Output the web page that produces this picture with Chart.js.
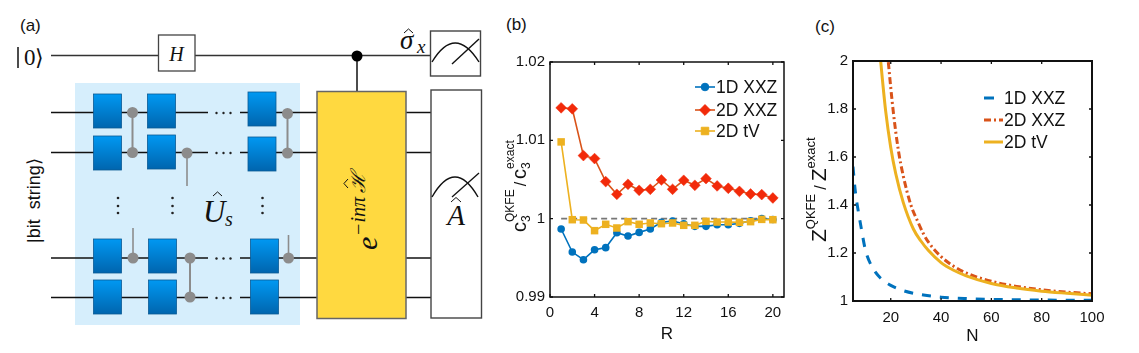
<!DOCTYPE html>
<html><head><meta charset="utf-8">
<script src="https://cdn.jsdelivr.net/npm/chart.js@4"></script>
<style>
html,body{margin:0;padding:0;background:#fff;width:1139px;height:353px;overflow:hidden}
#stage{position:relative;width:1139px;height:353px}
svg{position:absolute;left:0;top:0}
canvas{position:absolute}
</style></head><body>
<div id="stage">
<svg width="1139" height="353" viewBox="0 0 1139 353" id="diagram" xmlns="http://www.w3.org/2000/svg"></svg>
<canvas id="chartB" style="left:490px;top:40px"></canvas>
<canvas id="chartC" style="left:800px;top:40px"></canvas>
</div>
<script>
// ---------- panel (b) data ----------
const rounds = [1,2,3,4,5,6,7,8,9,10,11,12,13,14,15,16,17,18,19,20];
const b1dXXZ = [0.99868,0.99574,0.99476,0.99604,0.9963,0.9982,0.99778,0.99825,0.99868,0.99953,0.9997,0.99936,0.99902,0.99902,0.99923,0.99923,0.9994,0.99974,1.0,0.9999];
const b2dXXZ = [1.01415,1.01402,1.00805,1.00767,1.00473,1.00311,1.00439,1.00362,1.00375,1.00494,1.00375,1.0049,1.00426,1.00511,1.00418,1.00388,1.00349,1.00315,1.00307,1.00264];
const b2dtV  = [1.0098,0.99987,0.99983,0.99847,0.99928,0.99881,0.99962,0.99928,0.99945,0.99936,0.99945,0.99915,0.99915,0.99966,0.99957,0.99957,0.99953,0.99962,0.99991,0.99987];
const refR = [1,20];
const refV = [1,1];
const bXTicks = [0,4,8,12,16,20];
const bYTicks = [0.99,1,1.01,1.02];
// ---------- panel (c) data ----------
const c1dN = [5,5.5,6,7,8,10,13,16,20,25,33,40,50,60,70,80,100];
const c1dV = [1.56,1.50,1.45,1.38,1.32,1.21,1.135,1.095,1.065,1.043,1.025,1.016,1.010,1.007,1.005,1.004,1.003];
const c2dXXZN = [18,19,21,23,25,28,31,33,35,40,45,50,60,70,80,90,100];
const c2dXXZV = [2.12,2.0,1.79,1.63,1.52,1.40,1.325,1.28,1.245,1.185,1.145,1.117,1.082,1.061,1.047,1.037,1.03];
const c2dtVN = [15,16,18,20,22,25,29,32,35,40,45,50,60,70,80,90,100];
const c2dtVV = [2.12,2.0,1.79,1.64,1.53,1.41,1.30,1.25,1.21,1.16,1.128,1.105,1.073,1.054,1.041,1.032,1.024];
const cXTicks = [20,40,60,80,100];
const cYTicks = [1,1.2,1.4,1.6,1.8,2];
const labels1D = '1D XXZ', labels2D = '2D XXZ', labelsTV = '2D tV';

const BLUE='#0072BD', ORANGE='#D95319', GOLD='#EDB120', RED='#F22A0A', INK='#1c1c1c';
const SANS='"Liberation Sans", Arial, sans-serif';
const zip=(xs,ys)=>xs.map((x,i)=>({x,y:ys[i]}));

// draws the box frame, inward ticks, legend and composite y title
const decor = {
  id:'decor',
  afterDatasetsDraw(chart,args,o){
    const {ctx,chartArea:a,scales}=chart;
    ctx.save();
    ctx.strokeStyle='#111'; ctx.lineWidth=o.frame;
    ctx.strokeRect(a.left,a.top,a.right-a.left,a.bottom-a.top);
    ctx.lineWidth=1.3;
    ctx.beginPath();
    scales.x.ticks.forEach(t=>{const p=scales.x.getPixelForValue(t.value);
      ctx.moveTo(p,a.bottom);ctx.lineTo(p,a.bottom-3);ctx.moveTo(p,a.top);ctx.lineTo(p,a.top+3);});
    scales.y.ticks.forEach(t=>{const p=scales.y.getPixelForValue(t.value);
      ctx.moveTo(a.left,p);ctx.lineTo(a.left+3,p);ctx.moveTo(a.right,p);ctx.lineTo(a.right-3,p);});
    ctx.stroke();
    // legend
    ctx.font='17.5px '+SANS; ctx.textBaseline='middle'; ctx.textAlign='left';
    o.legend.forEach(it=>{
      const ds=chart.data.datasets[it.ds];
      ctx.save();
      ctx.strokeStyle=ds.borderColor; ctx.lineWidth=ds.borderWidth;
      ctx.setLineDash(it.dash||ds.borderDash||[]);
      ctx.beginPath();ctx.moveTo(o.lx0,it.y);ctx.lineTo(o.lx1,it.y);ctx.stroke();
      ctx.setLineDash([]);
      if(ds.pointStyle && ds.pointRadius>0){
        ctx.fillStyle=ds.pointBackgroundColor; ctx.strokeStyle=ds.pointBorderColor; ctx.lineWidth=1;
        Chart.helpers.drawPoint(ctx,{pointStyle:ds.pointStyle,radius:ds.pointRadius,borderWidth:1,rotation:0},(o.lx0+o.lx1)/2,it.y);
      }
      ctx.restore();
      ctx.fillStyle='#111';
      ctx.fillText(ds.label,o.lx1+o.lgap,it.y+1);
    });
    // y title
    ctx.translate(o.tx,o.ty); ctx.rotate(-Math.PI/2);
    ctx.fillStyle='#111'; ctx.textBaseline='alphabetic';
    let s=0;
    o.title.forEach(p=>{
      ctx.font=p.size+'px '+SANS;
      ctx.fillText(p.t,s,p.rise||0);
      if(p.t2){ctx.fillText(p.t2,s,p.rise2);}
      s+=ctx.measureText(p.t).width+(p.gap||0);
    });
    ctx.restore();
  }
};
function axis(ticks,min,max,title,pad,size){
  return {type:'linear',min,max,
    afterBuildTicks:s=>{s.ticks=ticks.map(v=>({value:v}));},
    afterFit:s=>{ if(size.w!==undefined) s.width=size.w; if(size.h!==undefined) s.height=size.h; },
    grid:{display:false,drawTicks:false}, border:{display:false},
    ticks:{color:'#111',font:{family:SANS,size:15},padding:pad,maxRotation:0,autoSkip:false,callback:v=>String(+v.toFixed(2))},
    title:title?{display:true,text:title,color:'#111',font:{family:SANS,size:17},padding:{top:0,bottom:0}}:{display:false}
  };
}
const base={responsive:false,animation:false,events:[],
  plugins:{legend:{display:false},tooltip:{enabled:false}}};

const cb=document.getElementById('chartB'); cb.width=310; cb.height=305;
new Chart(cb,{type:'line',data:{datasets:[
  {label:labelsTV,data:zip(rounds,b2dtV),borderColor:GOLD,borderWidth:1.6,pointStyle:'rect',pointRadius:5.3,pointBackgroundColor:GOLD,pointBorderColor:GOLD,pointBorderWidth:0},
  {label:labels2D,data:zip(rounds,b2dXXZ),borderColor:ORANGE,borderWidth:1.6,pointStyle:'rectRot',pointRadius:5.4,pointBackgroundColor:RED,pointBorderColor:RED,pointBorderWidth:0.5},
  {label:labels1D,data:zip(rounds,b1dXXZ),borderColor:BLUE,borderWidth:1.6,pointStyle:'circle',pointRadius:3.8,pointBackgroundColor:BLUE,pointBorderColor:BLUE,pointBorderWidth:0},
  {label:'exact',data:zip(refR,refV),borderColor:'#777',borderWidth:1.6,borderDash:[6,4],pointRadius:0}
]},options:{...base,layout:{padding:{left:0,right:16,top:22,bottom:0}},
  scales:{x:axis(bXTicks,0,21,'R',7,{h:48}),y:axis(bYTicks,0.99,1.02,null,5,{w:60})},
  plugins:{...base.plugins,decor:{frame:1.5,lx0:205,lx1:225,lgap:1,
    legend:[{ds:2,y:47},{ds:1,y:70},{ds:0,y:91}],
    tx:36,ty:192,
    title:[{t:'c',size:20},{t:'QKFE',size:12,rise:-12,t2:'3',rise2:4,gap:3},{t:'/',size:16,gap:3},{t:'c',size:20},{t:'exact',size:12,rise:-12,t2:'3',rise2:4}]}}},
  plugins:[decor]});

const cc=document.getElementById('chartC'); cc.width=339; cc.height=307;
new Chart(cc,{type:'line',data:{datasets:[
  {label:labelsTV,data:zip(c2dtVN,c2dtVV),borderColor:GOLD,borderWidth:3,pointRadius:0,cubicInterpolationMode:'monotone'},
  {label:labels2D,data:zip(c2dXXZN,c2dXXZV),borderColor:ORANGE,borderWidth:3,borderDash:[7,3,2,3],pointRadius:0,cubicInterpolationMode:'monotone'},
  {label:labels1D,data:zip(c1dN,c1dV),borderColor:BLUE,borderWidth:3,borderDash:[9,9],pointRadius:0,cubicInterpolationMode:'monotone'}
]},options:{...base,layout:{padding:{left:0,right:47,top:21,bottom:0}},
  scales:{x:axis(cXTicks,5,100,'N',8,{h:46}),y:axis(cYTicks,1,2,null,5,{w:53})},
  plugins:{...base.plugins,decor:{frame:2,lx0:184,lx1:203,lgap:1,
    legend:[{ds:2,y:58,dash:[10,20]},{ds:1,y:80},{ds:0,y:102}],
    tx:26,ty:202,
    title:[{t:'Z',size:21},{t:'QKFE',size:13,rise:-11,gap:4},{t:'/',size:16,gap:4},{t:'Z',size:21},{t:'exact',size:13,rise:-11}]}}},
  plugins:[decor]});

// ---------- panel (a): circuit schematic ----------
const wireYs=[112.5,152.5,258,297.5];
let g='<defs><linearGradient id="gt" x1="0" y1="0" x2="0" y2="1"><stop offset="0" stop-color="#0098F2"/><stop offset="1" stop-color="#0065AE"/></linearGradient></defs>';
const txt=(x,y,t,attr)=>`<text x="${x}" y="${y}" ${attr}>${t}</text>`;
const line=(x1,y1,x2,y2,c,w)=>`<line x1="${x1}" y1="${y1}" x2="${x2}" y2="${y2}" stroke="${c}" stroke-width="${w}"/>`;
const hat=(x,y,w)=>`<path d="M${x} ${y} L${x+w/2} ${y-w*0.45} L${x+w} ${y}" fill="none" stroke="#111" stroke-width="1"/>`;
const SF='font-family="Liberation Sans,Arial,sans-serif" fill="#111"';
const MI='font-family="Liberation Serif,serif" font-style="italic" fill="#111"';
g+=txt(20,31,'(a)',SF+' font-size="17"');
g+=txt(506,30,'(b)',SF+' font-size="17"');
g+=txt(815,32,'(c)',SF+' font-size="17"');
g+=`<rect x="75" y="83" width="225" height="242" fill="#D6EEFC"/>`;
g+=line(18,47,18,68,'#111',1.5);
g+=txt(24,65,'0',' font-family="Liberation Serif" font-size="23" fill="#111"');
g+=txt(35,65,'⟩',' font-family="DejaVu Sans" font-size="22" fill="#111"');
g+=`<text transform="translate(40,243) rotate(-90)" ${SF} font-size="18">|bit&#160; string⟩</text>`;
// top wire
g+=line(51,55.5,430,55.5,'#333',1.4);
g+=`<rect x="158.5" y="35" width="36.5" height="36" fill="#fff" stroke="#444" stroke-width="1.3"/>`;
g+=txt(176.5,61,'H',MI+' font-size="20" text-anchor="middle"');
// register wires
wireYs.forEach(y=>{
  g+=line(51,y,208,y,'#111',1.5);
  g+=line(240,y,317,y,'#111',1.5);
  g+=line(406,y,431,y,'#111',1.5);
  [216.5,223.5,230.5].forEach(x=>{g+=`<circle cx="${x}" cy="${y+0.5}" r="1.2" fill="#222"/>`;});
});
// gates
[[93.5,94],[93.5,136],[93.5,239],[93.5,280],[147.5,94],[147.5,135],[148.5,239],[148.5,280],[248,92],[248,137],[250.5,239],[250.5,280]]
 .forEach(([x,y])=>{g+=`<rect x="${x}" y="${y}" width="28" height="34" fill="url(#gt)" stroke="#0B5A94" stroke-width="0.8"/>`;});
// couplers
const GR='#8C8C8C';
const dot=(x,y)=>`<circle cx="${x}" cy="${y}" r="5.5" fill="${GR}"/>`;
g+=line(132.5,112.5,132.5,152.5,GR,2)+dot(132.5,112.5)+dot(132.5,152.5);
g+=line(187,153,187,186,GR,1.6)+dot(187,153);
g+=line(133,258,133,228,GR,1.6)+dot(133,258);
g+=line(190,258,190,297,GR,2)+dot(190,258)+dot(190,297);
g+=line(287.5,113.5,287.5,153,GR,2)+dot(287.5,113.5)+dot(287.5,153);
g+=line(288.5,258,288.5,235,GR,1.6)+dot(288.5,258);
[118,172.5,262.5].forEach(x=>{[198,206,213].forEach(y=>{g+=`<circle cx="${x}" cy="${y}" r="1.3" fill="#222"/>`;});});
g+=txt(203,222,'U',MI+' font-size="31"');
g+=hat(213,196,9);
g+=txt(225,226,'s',MI+' font-size="20"');
// evolution block
g+=line(357,56,357,92,'#111',1.5)+`<circle cx="357" cy="56" r="5.5" fill="#000"/>`;
g+=`<rect x="317" y="91.5" width="89" height="227" fill="#FFD940" stroke="#666" stroke-width="1.5"/>`;
g+=`<g transform="translate(377,250) rotate(-90)"><text x="0" y="0" ${MI} font-size="30">e</text><text x="14" y="-12" ${MI} font-size="20">−inπ</text><text x="57" y="-12" ${MI} font-size="20">ℋ</text>${hat(62,-29,9)}</g>`;
// measurement boxes
const BX='fill="#fff" stroke="#444" stroke-width="1.4"';
g+=`<rect x="430.5" y="31" width="50" height="45" ${BX}/>`;
g+=`<rect x="431" y="90" width="50.5" height="228" ${BX}/>`;
g+=`<path d="M432 62 Q455 24 479 62" fill="none" stroke="#111" stroke-width="1.4"/>`+line(452,64,479,39,'#111',1.4);
g+=`<path d="M432 197 Q455 157 478 197" fill="none" stroke="#111" stroke-width="1.4"/>`+line(452,197,479,173,'#111',1.4);
g+=txt(400,49,'σ',MI+' font-size="27"');
g+=hat(404,33,9);
g+=txt(417,53,'x',MI+' font-size="19"');
g+=txt(456,225,'A',MI+' font-size="29" text-anchor="middle"');
g+=hat(451,202,10);
document.getElementById('diagram').innerHTML=g;
</script>
</body></html>
